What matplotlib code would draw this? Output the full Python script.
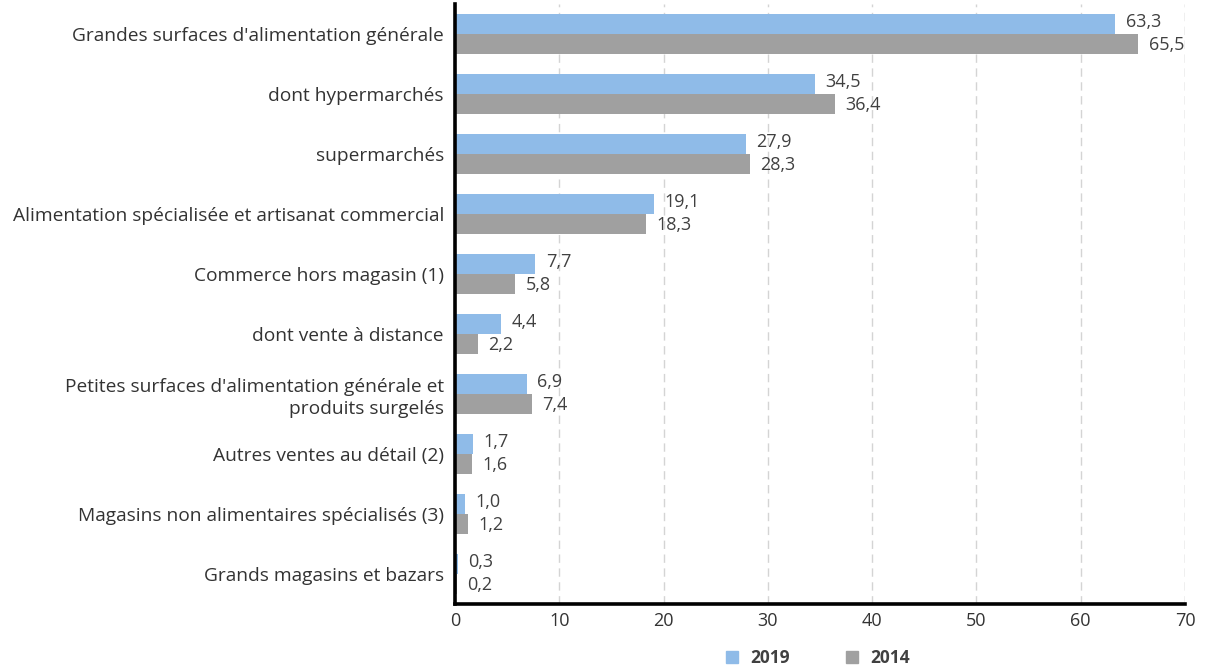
import matplotlib
matplotlib.use("Agg")
import matplotlib.pyplot as plt
import numpy as np
from matplotlib.lines import Line2D

categories = [
    "Grandes surfaces d'alimentation générale",
    "dont hypermarchés",
    "supermarchés",
    "Alimentation spécialisée et artisanat commercial",
    "Commerce hors magasin (1)",
    "dont vente à distance",
    "Petites surfaces d'alimentation générale et\nproduits surgelés",
    "Autres ventes au détail (2)",
    "Magasins non alimentaires spécialisés (3)",
    "Grands magasins et bazars",
]
values_2019 = [63.3, 34.5, 27.9, 19.1, 7.7, 4.4, 6.9, 1.7, 1.0, 0.3]
values_2014 = [65.5, 36.4, 28.3, 18.3, 5.8, 2.2, 7.4, 1.6, 1.2, 0.2]
series_labels = ["2019", "2014"]
xticks = [0, 10, 20, 30, 40, 50, 60, 70]

c2019 = "#8fbbe8"
c2014 = "#a0a0a0"
txt = "#404040"
font = ["Open Sans", "DejaVu Sans"]
plt.rcParams['font.family'] = font

fig = plt.figure(figsize=(12.08, 6.70), dpi=100)
ax = fig.add_axes([455/1208, 1-604/670, (1185-455)/1208, (604-4)/670])

n = len(categories)
y = np.arange(n)
h = 0.335
ax.barh(y - h/2, values_2019, height=h, color=c2019, zorder=2)
ax.barh(y + h/2, values_2014, height=h, color=c2014, zorder=2)

def fmt(v):
    return f"{v:.1f}".replace(".", ",")

fs = 13
for i in range(n):
    ax.text(values_2019[i] + 1.0, y[i] - h/2 - 0.03, fmt(values_2019[i]), va="center", ha="left",
            fontsize=fs, color=txt, zorder=3)
    ax.text(values_2014[i] + 1.0, y[i] + h/2 + 0.01, fmt(values_2014[i]), va="center", ha="left",
            fontsize=fs, color=txt, zorder=3)

ax.set_ylim(n - 0.5, -0.5)
ax.set_xlim(0, 70)
ax.set_xticks(xticks)
ax.set_xticklabels([str(t) for t in xticks], fontsize=fs, color="#333333")
ax.set_yticks(y)
ax.set_yticklabels(categories, fontsize=13.8, color="#333333", linespacing=1.25)
ax.tick_params(axis="both", length=0)
ax.tick_params(axis="x", pad=6)
ax.tick_params(axis="y", pad=8)

ax.grid(axis="x", color="#d4d4d4", linestyle=(0, (6, 4)), linewidth=1.0, zorder=1)
ax.spines["top"].set_visible(False)
ax.spines["right"].set_visible(False)
ax.spines["left"].set_linewidth(2.6)
ax.spines["bottom"].set_linewidth(2.6)
ax.spines["left"].set_color("black")
ax.spines["bottom"].set_color("black")
ax.axvline(70, color="#d4d4d4", linestyle=(0, (6, 4)), linewidth=1.0, zorder=1)

handles = [Line2D([], [], marker="s", linestyle="none", markersize=8, color=c2019),
           Line2D([], [], marker="s", linestyle="none", markersize=8, color=c2014)]
leg = fig.legend(handles, series_labels, loc="center", bbox_to_anchor=(812/1208, 1-658/670),
                 ncol=2, frameon=False, handletextpad=0.05, columnspacing=2.6,
                 prop={"weight": "bold", "size": 12.5, "family": font})
for t in leg.get_texts():
    t.set_color("#404040")

fig.savefig("out.png", dpi=100)
